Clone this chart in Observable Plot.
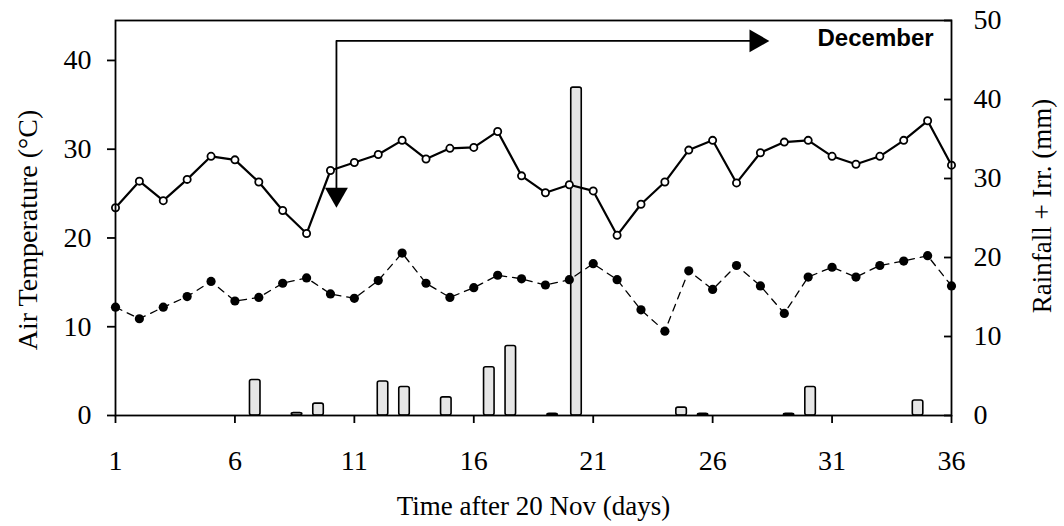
<!DOCTYPE html>
<html><head><meta charset="utf-8">
<script src="https://cdn.jsdelivr.net/npm/d3@7"></script>
<script src="https://cdn.jsdelivr.net/npm/@observablehq/plot@0.6"></script>
<style>
html,body{margin:0;padding:0;background:#fff;}
#chart g[aria-label="month"] text{letter-spacing:1.5px;}
</style>
</head><body><div id="chart"></div>
<script>
// ---- data ----
const days = [1,2,3,4,5,6,7,8,9,10,11,12,13,14,15,16,17,18,19,20,21,22,23,24,25,26,27,28,29,30,31,32,33,34,35,36];
const tMax = [23.4,26.4,24.2,26.6,29.2,28.8,26.3,23.1,20.5,27.6,28.5,29.4,31.0,28.9,30.1,30.2,32.0,27.0,25.1,26.0,25.3,20.3,23.8,26.3,29.9,31.0,26.2,29.6,30.8,31.0,29.2,28.3,29.2,31.0,33.2,28.2];
const tMin = [12.2,10.9,12.2,13.4,15.1,12.9,13.3,14.9,15.5,13.7,13.2,15.2,18.3,14.9,13.3,14.4,15.8,15.4,14.7,15.3,17.1,15.3,11.9,9.5,16.3,14.2,16.9,14.6,11.5,15.6,16.7,15.6,16.9,17.4,18.0,14.6];
const rainDay = [6.85,8.6,9.5,12.2,13.1,14.85,16.65,17.55,19.3,20.3,24.7,25.6,29.2,30.1,34.6];
const rainMm  = [4.5,0.3,1.5,4.3,3.6,2.3,6.1,8.8,0.2,41.5,1.0,0.2,0.2,3.6,1.9];
const xTicks = [1,6,11,16,21,26,31,36];
const leftTicks = [0,10,20,30,40];
const rightTicks = [0,10,20,30,40,50];
// December annotation (in data units: day, °C)
const arrowPath = [{x:10.25,y:24.9},{x:10.25,y:42.2},{x:27.82,y:42.2}];
const arrowHeads = [{x:10.25,y:24.9,rot:180},{x:27.82,y:42.2,rot:90}];
const monthLabel = [{x:35.25,y:42.5,text:"December"}];

const K = 0.89; // °C on the left axis per mm on the right axis
const maxData = days.map((d,i)=>({day:d, t:tMax[i]}));
const minData = days.map((d,i)=>({day:d, t:tMin[i]}));
const rain = rainDay.map((d,i)=>({day:d, mm:rainMm[i]}));

const serif = "'Liberation Serif','Times New Roman',serif";
const chart = Plot.plot({
  width: 1064, height: 526,
  marginLeft: 115, marginRight: 113, marginTop: 20, marginBottom: 111,
  style: {fontFamily: serif, fontSize: "28px", background: "#fff", color: "#000"},
  x: {domain: [1,36]},
  y: {domain: [0,44.5]},
  marks: [
    Plot.rect(rain, {x1: d=>d.day-0.22, x2: d=>d.day+0.22, y1: 0, y2: d=>d.mm*K, fill: "#e6e6e6", stroke: "#000", strokeWidth: 1.6, rx: 2}),
    Plot.line(minData, {x:"day", y:"t", stroke:"#000", strokeWidth:1.3, strokeDasharray:"7,6"}),
    Plot.dot(minData, {x:"day", y:"t", r:4.6, fill:"#000", stroke:"none"}),
    Plot.line(maxData, {x:"day", y:"t", stroke:"#000", strokeWidth:2.2}),
    Plot.dot(maxData, {x:"day", y:"t", r:3.6, fill:"#fff", stroke:"#000", strokeWidth:1.8}),
    Plot.line(arrowPath, {x:"x", y:"y", stroke:"#000", strokeWidth:1.8}),
    Plot.dot(arrowHeads, {x:"x", y:"y", symbol:"triangle", rotate:"rot", r:8.5, fill:"#000", stroke:"none"}),
    Plot.text(monthLabel, {x:"x", y:"y", text:"text", textAnchor:"end", fontFamily:"'Liberation Sans',Arial,sans-serif", fontWeight:"bold", fontSize:24, ariaLabel:"month"}),
    Plot.frame({stroke:"#000", strokeWidth:1.8}),
    Plot.axisX(xTicks, {tickSize:8, tickPadding:27, strokeWidth:1.8, fontSize:28, label:null}),
    Plot.axisY(leftTicks, {anchor:"left", tickSize:8, tickPadding:16, strokeWidth:1.8, fontSize:28, label:null}),
    Plot.axisY(rightTicks.map(v=>v*K), {anchor:"right", tickSize:8, dx:-8, strokeWidth:1.8, tickFormat:()=>"", label:null}),
    Plot.axisY(rightTicks.map(v=>v*K), {anchor:"right", tickSize:0, tickPadding:22, fontSize:28, tickFormat:d=>String(Math.round(d/K)), label:null}),
    Plot.text(["Air Temperature (°C)"], {frameAnchor:"left", textAnchor:"middle", rotate:-90, dx:-87, dy:12, fontSize:28}),
    Plot.text(["Rainfall + Irr. (mm)"], {frameAnchor:"right", textAnchor:"middle", rotate:-90, dx:91, dy:-12, fontSize:27}),
    Plot.text(["Time after 20 Nov (days)"], {frameAnchor:"bottom", textAnchor:"middle", dy:99, fontSize:27})
  ]
});
document.getElementById("chart").appendChild(chart);
</script>
</body></html>
